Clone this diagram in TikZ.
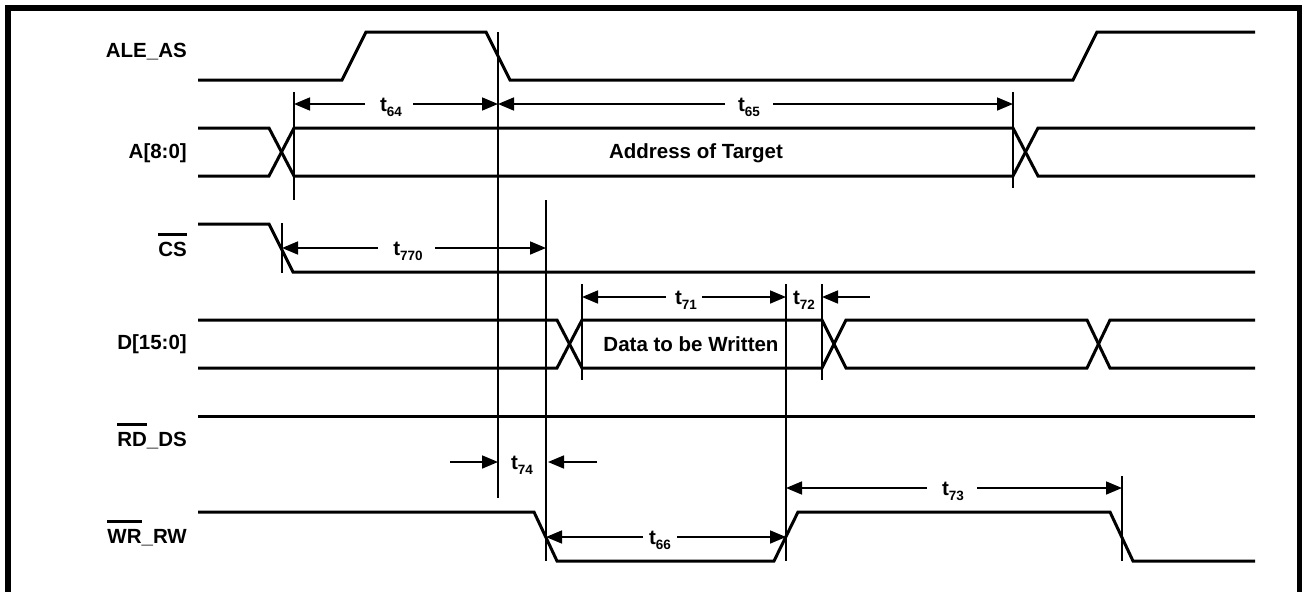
\documentclass[tikz,border=0pt]{standalone}
\usepackage{fontspec}
\setmainfont{Liberation Sans}
\usetikzlibrary{arrows.meta}
\newcommand\lab{\fontsize{20.5}{24}\selectfont\bfseries}
\newcommand\tlab[1]{t\raisebox{-5pt}{\fontsize{13.5}{14}\selectfont #1}}
\newcommand\ovl[1]{\setbox0\hbox{#1}\rlap{\raisebox{20pt}{\rule{\wd0}{3pt}}}\box0}
\begin{document}
\begin{tikzpicture}[x=1pt,y=-1pt,
  sig/.style={line width=3pt,line join=miter},
  vmark/.style={line width=1.7pt},
  arr/.style={line width=1.7pt,-{Triangle[length=16pt,width=13pt]}},
  siglab/.style={anchor=east,font=\lab,inner sep=0pt},
  tl/.style={font=\lab,inner sep=0pt},
  intext/.style={font=\lab,inner sep=0pt}]
\useasboundingbox (0,0) rectangle (1302,592);
\fill[white] (0,0) rectangle (1302,592);
\begin{scope}
\clip (0,0) rectangle (1302,592);
\draw[line width=6pt] (8,8) rectangle (1299.7,596);
\end{scope}

% signal labels
\node[siglab] (lale) at (187,52) {ALE\_AS};
\node[siglab] (la) at (187,153) {A[8:0]};
\node[siglab,anchor=base east] (lcs) at (187,256) {\ovl{CS}};
\node[siglab] (ld) at (187,344) {D[15:0]};
\node[siglab,anchor=base east] (lrd) at (187,446) {\ovl{RD}\_DS};
\node[siglab,anchor=base east] (lwr) at (187,543) {\ovl{WR}\_RW};

% waveforms
\draw[sig] (198,80) -- (342,80) -- (366,32) -- (486,32) -- (510,80) -- (1073,80) -- (1097,32) -- (1255,32);
\draw[sig] (198,128) -- (269,128) -- (294,176) -- (1013,176) -- (1038,128) -- (1255,128);
\draw[sig] (198,176) -- (269,176) -- (294,128) -- (1013,128) -- (1038,176) -- (1255,176);
\draw[sig] (198,224) -- (269,224) -- (293,272) -- (1255,272);
\draw[sig] (198,320) -- (557,320) -- (582,368) -- (822,368) -- (846,320) -- (1087,320) -- (1110,368) -- (1255,368);
\draw[sig] (198,368) -- (557,368) -- (582,320) -- (822,320) -- (846,368) -- (1087,368) -- (1110,320) -- (1255,320);
\draw[sig] (198,416) -- (1255,416);
\draw[sig] (198,512) -- (534,512) -- (557,561) -- (774,561) -- (798,512) -- (1110,512) -- (1133,561) -- (1255,561);

\node[intext] (addr) at (696,153) {Address of Target};
\node[intext] (data) at (691,344) {Data to be Written};

% vertical markers
\coordinate (v1t) at (294,92);   \coordinate (v1b) at (294,200);
\coordinate (v2t) at (498,32);   \coordinate (v2b) at (498,498);
\coordinate (v3t) at (546,200);  \coordinate (v3b) at (546,561);
\coordinate (v4t) at (1013,92);  \coordinate (v4b) at (1013,188);
\coordinate (v5t) at (282,223);  \coordinate (v5b) at (282,273);
\coordinate (v6t) at (582,284);  \coordinate (v6b) at (582,380);
\coordinate (v7t) at (786,284);  \coordinate (v7b) at (786,561);
\coordinate (v8t) at (822,284);  \coordinate (v8b) at (822,380);
\coordinate (v9t) at (1122,476); \coordinate (v9b) at (1122,561);
\foreach \v in {1,...,9} \draw[vmark] (v\v t) -- (v\v b);

% timing labels
\node[tl] (t64) at (391,107) {\tlab{64}};
\node[tl] (t65) at (749,107) {\tlab{65}};
\node[tl] (t770) at (408,251) {\tlab{770}};
\node[tl] (t71) at (686,300) {\tlab{71}};
\node[tl] (t72) at (804,300) {\tlab{72}};
\node[tl] (t74) at (522,465) {\tlab{74}};
\node[tl] (t66) at (660,540) {\tlab{66}};
\node[tl] (t73) at (953,491) {\tlab{73}};

% arrow ends
\coordinate (a64l) at (365,104); \coordinate (a64r) at (413,104);
\coordinate (a65l) at (725,104); \coordinate (a65r) at (773,104);
\coordinate (a770l) at (378,248); \coordinate (a770r) at (435,248);
\coordinate (a71l) at (666,297); \coordinate (a71r) at (702,297);
\coordinate (a72r) at (870,297);
\coordinate (a74l) at (450,462); \coordinate (a74r) at (597,462);
\coordinate (a66l) at (643,537); \coordinate (a66r) at (677,537);
\coordinate (a73l) at (927,488); \coordinate (a73r) at (977,488);

\draw[arr] (a64l) -- (v1t |- a64l);
\draw[arr] (a64r) -- (v2t |- a64r);
\draw[arr] (a65l) -- (v2t |- a65l);
\draw[arr] (a65r) -- (v4t |- a65r);
\draw[arr] (a770l) -- (v5t |- a770l);
\draw[arr] (a770r) -- (v3t |- a770r);
\draw[arr] (a71l) -- (v6t |- a71l);
\draw[arr] (a71r) -- (v7t |- a71r);
\draw[arr] (a72r) -- (v8t |- a72r);
\draw[arr] (a74l) -- (v2t |- a74l);
\draw[arr] (a74r) -- ([xshift=2pt]v3t |- a74r);
\draw[arr] (a66l) -- (v3t |- a66l);
\draw[arr] (a66r) -- (v7t |- a66r);
\draw[arr] (a73l) -- (v7t |- a73l);
\draw[arr] (a73r) -- (v9t |- a73r);
\end{tikzpicture}
\end{document}
